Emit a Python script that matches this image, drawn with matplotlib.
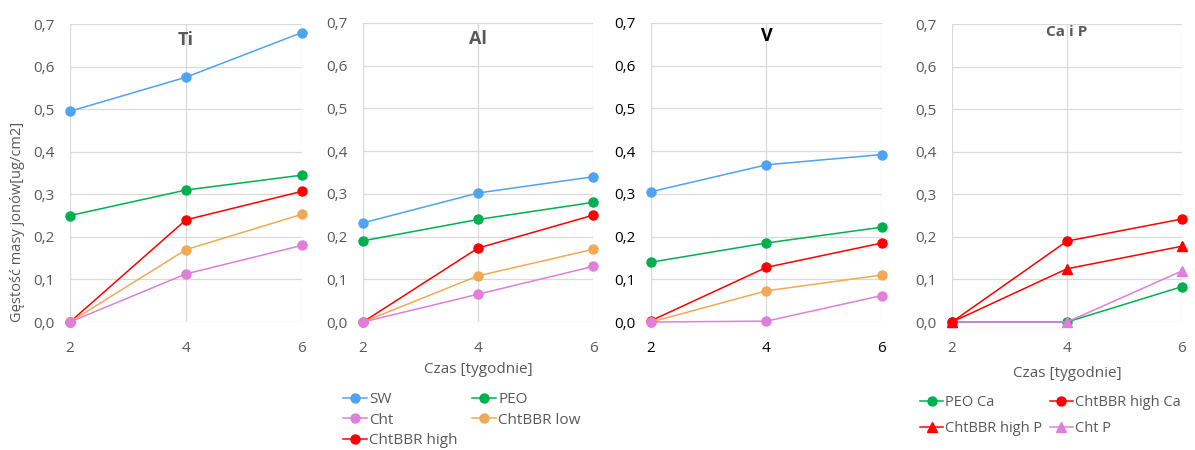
import matplotlib
matplotlib.use("Agg")
import matplotlib.pyplot as plt

plt.rcParams['font.family'] = ['Open Sans', 'DejaVu Sans']

# Weeks of exposure
weeks = [2, 4, 6]

# Ti release
ti_sw = [0.495, 0.575, 0.680]
ti_peo = [0.250, 0.310, 0.345]
ti_cht = [0.000, 0.113, 0.180]
ti_low = [0.000, 0.170, 0.253]
ti_high = [0.000, 0.240, 0.307]

# Al release
al_sw = [0.232, 0.302, 0.340]
al_peo = [0.190, 0.240, 0.280]
al_cht = [0.000, 0.065, 0.130]
al_low = [0.000, 0.108, 0.170]
al_high = [0.000, 0.173, 0.250]

# V release
v_sw = [0.305, 0.368, 0.392]
v_peo = [0.140, 0.185, 0.222]
v_cht = [0.000, 0.002, 0.062]
v_low = [0.000, 0.073, 0.110]
v_high = [0.003, 0.128, 0.185]

# Ca and P release
ca_peo = [0.000, 0.000, 0.083]
ca_high = [0.000, 0.190, 0.242]
p_high = [0.000, 0.125, 0.178]
p_cht = [0.000, 0.000, 0.120]

yticks = [0.0, 0.1, 0.2, 0.3, 0.4, 0.5, 0.6, 0.7]
ytick_labels = ['0,0', '0,1', '0,2', '0,3', '0,4', '0,5', '0,6', '0,7']
xticks = [2, 4, 6]

C_SW = '#4EA3F2'
C_PEO = '#00B050'
C_CHT = '#E07EDB'
C_LOW = '#F0AA55'
C_HIGH = '#FF0000'
GRID = '#D9D9D9'
GRAY = '#595959'

W, H = 1195, 450
fig = plt.figure(figsize=(W / 100, H / 100), dpi=100)


def make_axes(x0, x1, y_top, y_bot):
    return fig.add_axes([x0 / W, (H - y_bot) / H, (x1 - x0) / W, (y_bot - y_top) / H])


def style(ax, title, tcolor, title_size, title_y):
    ax.set_xlim(2, 6)
    ax.set_ylim(0, 0.7)
    ax.set_yticks(yticks)
    ax.set_yticklabels(ytick_labels)
    ax.set_xticks(xticks)
    ax.grid(True, color=GRID, lw=0.9)
    ax.set_axisbelow(True)
    for s in ax.spines.values():
        s.set_visible(False)
    ax.tick_params(length=0, labelsize=11, labelcolor=tcolor)
    ax.tick_params(axis='y', pad=11)
    ax.tick_params(axis='x', pad=14)
    ax.text(0.5, title_y, title, transform=ax.transAxes, ha='center', va='center',
            fontsize=title_size, fontweight='bold', color=tcolor)


def series(ax, y, color, marker='o', ms=6.5, label=None):
    return ax.plot(weeks, y, color=color, lw=1.1, marker=marker, ms=ms,
                   clip_on=False, label=label, zorder=3)[0]


# Panel: Ti
ax1 = make_axes(70, 302, 24, 322)
style(ax1, 'Ti', GRAY, 13, 0.945)
series(ax1, ti_sw, C_SW)
series(ax1, ti_peo, C_PEO)
series(ax1, ti_high, C_HIGH)
series(ax1, ti_low, C_LOW)
series(ax1, ti_cht, C_CHT)

# Panel: Al
ax2 = make_axes(363, 593, 23, 322)
style(ax2, 'Al', GRAY, 13, 0.945)
h_sw = series(ax2, al_sw, C_SW, label='SW')
h_peo = series(ax2, al_peo, C_PEO, label='PEO')
h_high = series(ax2, al_high, C_HIGH, label='ChtBBR high')
h_low = series(ax2, al_low, C_LOW, label='ChtBBR low')
h_cht = series(ax2, al_cht, C_CHT, label='Cht')
ax2.set_xlabel('Czas [tygodnie]', fontsize=11, color=GRAY, labelpad=4)
ax2.legend([h_sw, h_cht, h_high, h_peo, h_low],
           ['SW', 'Cht', 'ChtBBR high', 'PEO', 'ChtBBR low'],
           ncol=2, loc='upper left', bbox_to_anchor=(-0.115, -0.214),
           frameon=False, fontsize=11, labelcolor=GRAY, handlelength=1.6,
           handletextpad=0.15, columnspacing=0.9, labelspacing=0.36,
           borderaxespad=0)

# Panel: V
ax3 = make_axes(651, 882, 23, 322)
style(ax3, 'V', 'black', 13, 0.955)
series(ax3, v_sw, C_SW)
series(ax3, v_peo, C_PEO)
series(ax3, v_high, C_HIGH)
series(ax3, v_low, C_LOW)
series(ax3, v_cht, C_CHT)

# Panel: Ca i P
ax4 = make_axes(952, 1182, 24, 322)
style(ax4, 'Ca i P', GRAY, 11, 0.973)
g1 = series(ax4, ca_peo, C_PEO)
g4 = series(ax4, p_cht, C_CHT, marker='^', ms=7)
g2 = series(ax4, ca_high, C_HIGH)
g3 = series(ax4, p_high, C_HIGH, marker='^', ms=7)
ax4.set_xlabel('Czas [tygodnie]', fontsize=11, color=GRAY, labelpad=7)
ax4.legend([g1, g3, g2, g4],
           ['PEO Ca', 'ChtBBR high P', 'ChtBBR high Ca', 'Cht P'],
           ncol=2, loc='upper left', bbox_to_anchor=(-0.165, -0.225),
           frameon=False, fontsize=10.5, labelcolor=GRAY, handlelength=1.6,
           handletextpad=0.15, columnspacing=0.5, labelspacing=0.75,
           borderaxespad=0)

fig.text(18 / W, 1 - 222 / H, 'Gęstość masy jonów[ug/cm2]', rotation=90,
         ha='center', va='center', fontsize=10.5, color=GRAY)

fig.savefig('out.png', dpi=100)
